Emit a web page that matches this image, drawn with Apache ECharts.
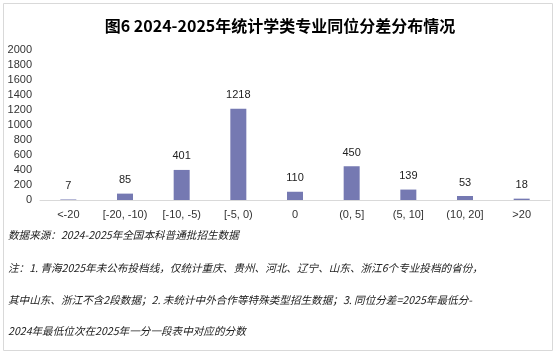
<!DOCTYPE html>
<html lang="zh">
<head>
    <meta charset="UTF-8">
    <script src="https://cdn.jsdelivr.net/npm/echarts@6/dist/echarts.min.js"></script>
    <style>
        html, body { margin: 0; padding: 0; background: #fff; }
        #chart { width: 560px; height: 353px; }
    </style>
</head>
<body>
    <div id="chart"></div>
    <script>
        // 分差区间
        const categories = ['<-20', '[-20, -10)', '[-10, -5)', '[-5, 0)', '0', '(0, 5]', '(5, 10]', '(10, 20]', '>20']
        // 专业数
        const counts = [7, 85, 401, 1218, 110, 450, 139, 53, 18]
        const yTicks = { min: 0, max: 2000, interval: 200 }

        const titleText = '图6 2024-2025年统计学类专业同位分差分布情况'
        const noteLines = [
            '数据来源：2024-2025年全国本科普通批招生数据',
            '注：1. 青海2025年未公布投档线，仅统计重庆、贵州、河北、辽宁、山东、浙江6个专业投档的省份，',
            '其中山东、浙江不含2段数据；2. 未统计中外合作等特殊类型招生数据；3. 同位分差=2025年最低分-',
            '2024年最低位次在2025年一分一段表中对应的分数'
        ]
        const noteY = [237, 270, 302, 333]

        const fontCN = '"Noto Sans CJK SC", "Noto Sans", sans-serif'
        const fontNum = '"Liberation Sans", "Noto Sans CJK SC", sans-serif'

        const notes = noteLines.map((t, i) => ({
            type: 'text',
            left: 8,
            top: noteY[i] - 7,
            style: {
                text: t,
                font: 'italic 10.6px ' + fontCN,
                fill: '#222'
            }
        }))

        const myChart = echarts.init(document.getElementById('chart'))
        const option = {
            animation: false,
            title: {
                text: titleText,
                left: 'center',
                top: 13,
                textStyle: {
                    fontFamily: fontCN,
                    fontSize: 16,
                    fontWeight: 'bold',
                    color: '#000'
                }
            },
            grid: { left: 40, right: 10, top: 50, bottom: 153 },
            xAxis: {
                type: 'category',
                data: categories,
                axisLine: { lineStyle: { color: '#d9d9d9' } },
                axisTick: { show: false },
                axisLabel: {
                    interval: 0,
                    margin: 9,
                    fontFamily: fontNum,
                    fontSize: 11,
                    color: '#333'
                }
            },
            yAxis: {
                type: 'value',
                min: yTicks.min,
                max: yTicks.max,
                interval: yTicks.interval,
                axisLine: { show: false },
                axisTick: { show: false },
                splitLine: { show: false },
                axisLabel: {
                    margin: 8,
                    formatter: v => String(v),
                    fontFamily: fontNum,
                    fontSize: 11,
                    color: '#333'
                }
            },
            series: [
                {
                    type: 'bar',
                    data: counts,
                    barWidth: 16,
                    itemStyle: { color: '#7579b2' },
                    label: {
                        show: true,
                        position: 'top',
                        distance: 8,
                        fontFamily: fontNum,
                        fontSize: 11,
                        color: '#222'
                    }
                }
            ],
            graphic: [
                {
                    type: 'rect',
                    shape: { x: 3.5, y: 3.5, width: 549, height: 347 },
                    style: { fill: 'none', stroke: '#d9d9d9', lineWidth: 1 },
                    silent: true
                }
            ].concat(notes)
        }
        myChart.setOption(option)
    </script>
</body>
</html>
